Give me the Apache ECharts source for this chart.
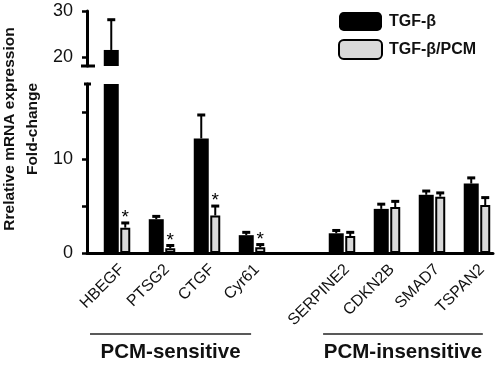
<!DOCTYPE html>
<html>
<head>
<meta charset="utf-8">
<script src="https://cdn.jsdelivr.net/npm/echarts@6/dist/echarts.min.js"></script>
<style>
  html, body { margin: 0; padding: 0; background: #fff; }
  #chart { width: 498px; height: 365px; }
</style>
</head>
<body>
<div id="chart"></div>
<script>
// slot 4 is the empty gap between the two gene groups
const categories = ['HBEGF', 'PTSG2', 'CTGF', 'Cyr61', '', 'SERPINE2', 'CDKN2B', 'SMAD7', 'TSPAN2']
const tgfValues  = [21.5, 3.6, 12.2, 1.9, null, 2.1, 4.7, 6.2, 7.4]
const tgfErrors  = [6.6, 0.3, 2.5, 0.3, null, 0.3, 0.5, 0.4, 0.6]
const pcmValues  = [2.7, 0.5, 4.0, 0.6, null, 1.8, 4.9, 6.0, 5.1]
const pcmErrors  = [0.5, 0.3, 1.0, 0.3, null, 0.4, 0.6, 0.4, 0.8]
const pcmStars   = [1, 1, 1, 1, 0, 0, 0, 0, 0]
const lowerTicks  = [0, 5, 10, 15]
const lowerLabels = [0, 10]
const upperTicks  = [20, 30]
const groupNames  = ['PCM-sensitive', 'PCM-insensitive']

const FONT = '"Liberation Sans", Arial, sans-serif'
const BLACK_W = 15, GRAY_W = 10, GAP = 0.1
const X_MIN = -0.667, X_MAX = 8.356
// bar centres relative to slot centre (same math as echarts bar layout)
const sumW = BLACK_W * (1 + GAP) + GRAY_W
const BLACK_OFF = -sumW / 2 + BLACK_W / 2
const GRAY_OFF = -sumW / 2 + BLACK_W * (1 + GAP) + GRAY_W / 2

const chart = echarts.init(document.getElementById('chart'), null, { renderer: 'canvas' })

const barData = vals => vals.map((v, i) => v == null ? null : [i, v]).filter(Boolean)
const errData = (vals, errs, stars) => vals.map((v, i) => v == null ? null : [i, v, errs[i], stars ? stars[i] : 0]).filter(Boolean)

function errorItem(offset) {
  return function (params, api) {
    const i = api.value(0), v = api.value(1), e = api.value(2)
    const base = api.coord([i, v]), tip = api.coord([i, v + e])
    const x = base[0] + offset
    const children = [
      { type: 'line', shape: { x1: x, y1: base[1], x2: x, y2: tip[1] }, style: { stroke: '#000', lineWidth: 2 } },
      { type: 'line', shape: { x1: x - 4, y1: tip[1], x2: x + 4, y2: tip[1] }, style: { stroke: '#000', lineWidth: 3 } },
    ]
    if (api.value(3)) {
      children.push({ type: 'text', style: { text: '*', x: x, y: tip[1] - 5, align: 'center', verticalAlign: 'middle', font: '19px ' + FONT, fill: '#000' } })
    }
    return { type: 'group', children }
  }
}

const yLine = { show: true, onZero: false, lineStyle: { color: '#000', width: 3 } }
const hiddenX = g => ({ type: 'value', gridIndex: g, min: X_MIN, max: X_MAX, show: false })

const option = {
  backgroundColor: '#fff',
  animation: false,
  grid: [
    { left: 87, right: 5, top: 84, height: 169 },
    { left: 87, right: 5, top: 11, height: 55 },
  ],
  legend: {
    orient: 'vertical', left: 333, top: 7,
    itemWidth: 43, itemHeight: 19, itemGap: 8,
    data: ['TGF-β', 'TGF-β/PCM'],
    textStyle: { fontFamily: FONT, fontWeight: 'bold', fontSize: 16, color: '#111', padding: [0, 0, 0, 2] },
  },
  xAxis: [
    {
      type: 'value', gridIndex: 0, min: X_MIN, max: X_MAX,
      axisLine: { show: true, onZero: false, lineStyle: { color: '#000', width: 3 } },
      axisTick: { show: false },
      splitLine: { show: false },
      axisLabel: {
        customValues: categories.map((c, i) => c ? i + 0.11 : null).filter(v => v != null),
        formatter: v => categories[Math.round(v)],
        rotate: 45, margin: 14, fontSize: 16, fontFamily: FONT, color: '#111',
      },
    },
    hiddenX(1),
  ],
  yAxis: [
    {
      type: 'value', gridIndex: 0, min: 0, max: 18,
      axisLine: yLine,
      axisTick: { show: true, customValues: lowerTicks, length: 5, lineStyle: { color: '#000', width: 2.5 } },
      axisLabel: { customValues: lowerLabels, fontSize: 18, margin: 14, fontFamily: FONT, color: '#111' },
      splitLine: { show: false },
    },
    {
      type: 'value', gridIndex: 1, min: 18, max: 30,
      axisLine: yLine,
      axisTick: { show: true, customValues: upperTicks, length: 5, lineStyle: { color: '#000', width: 2.5 } },
      axisLabel: { customValues: upperTicks, fontSize: 18, margin: 14, fontFamily: FONT, color: '#111' },
      splitLine: { show: false },
    },
  ],
  series: [0, 1].flatMap(g => [
    {
      name: 'TGF-β', type: 'bar', xAxisIndex: g, yAxisIndex: g,
      data: barData(tgfValues), barWidth: BLACK_W, barGap: '10%',
      itemStyle: { color: '#000' },
    },
    {
      name: 'TGF-β/PCM', type: 'bar', xAxisIndex: g, yAxisIndex: g,
      data: barData(pcmValues), barWidth: GRAY_W, barGap: '10%',
      itemStyle: { color: '#d9d9d9', borderColor: '#000', borderWidth: 2 },
    },
    {
      type: 'custom', xAxisIndex: g, yAxisIndex: g, clip: true, z: 3,
      data: errData(tgfValues, tgfErrors), renderItem: errorItem(BLACK_OFF),
    },
    {
      type: 'custom', xAxisIndex: g, yAxisIndex: g, clip: true, z: 3,
      data: errData(pcmValues, pcmErrors, g === 0 ? pcmStars : null), renderItem: errorItem(GRAY_OFF),
    },
  ]),
}
chart.setOption(option)

// axis-break caps, y-axis title and group brackets
const lowTop = chart.convertToPixel({ gridIndex: 0 }, [X_MIN, 18])
const upBot = chart.convertToPixel({ gridIndex: 1 }, [X_MIN, 18])
const p = x => chart.convertToPixel({ gridIndex: 0 }, [x, 0])[0]
const spans = [[-0.6, 2.98], [4.58, 8.13]]
const graphic = [
  { type: 'line', shape: { x1: upBot[0] - 6, y1: upBot[1], x2: upBot[0] + 8, y2: upBot[1] }, style: { stroke: '#000', lineWidth: 3 } },
  { type: 'line', shape: { x1: lowTop[0] - 3, y1: lowTop[1], x2: lowTop[0] + 4, y2: lowTop[1] }, style: { stroke: '#000', lineWidth: 3 } },
  {
    type: 'text', x: 21, y: 129, rotation: Math.PI / 2,
    style: { text: 'Rrelative mRNA expression\nFold-change', align: 'center', verticalAlign: 'middle', font: 'bold 15.5px ' + FONT, lineHeight: 23, fill: '#111' },
  },
]
spans.forEach((s, k) => {
  const a = p(s[0]), b = p(s[1])
  graphic.push({ type: 'line', shape: { x1: a, y1: 334, x2: b, y2: 334 }, style: { stroke: '#222', lineWidth: 1.5 } })
  graphic.push({ type: 'text', x: (a + b) / 2, y: 352, style: { text: groupNames[k], align: 'center', verticalAlign: 'middle', font: 'bold 20.5px ' + FONT, fill: '#111' } })
})
chart.setOption({ graphic })
</script>
</body>
</html>
